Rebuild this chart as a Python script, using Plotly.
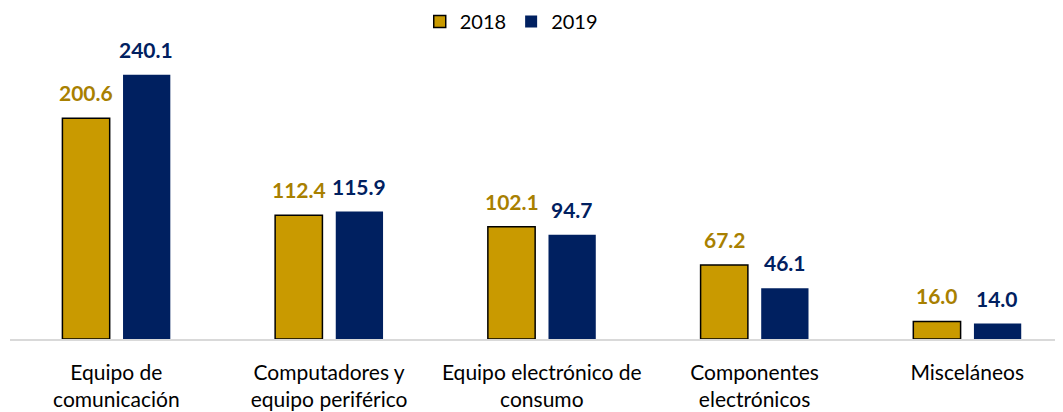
import plotly.graph_objects as go

categories = ["Equipo de<br>comunicación", "Computadores y<br>equipo periférico",
              "Equipo electrónico de<br>consumo", "Componentes<br>electrónicos", "Misceláneos"]
values_2018 = [200.6, 112.4, 102.1, 67.2, 16.0]
values_2019 = [240.1, 115.9, 94.7, 46.1, 14.0]

FONT = "Lato, 'Open Sans', sans-serif"
GOLD = "#C99A00"
GOLD_TXT = "#A88000"
NAVY = "#002060"

fig = go.Figure()
fig.add_trace(go.Bar(
    name="2018", x=categories, y=values_2018,
    marker=dict(color=GOLD, line=dict(color="#000000", width=1.5)),
))
fig.add_trace(go.Bar(
    name="2019", x=categories, y=values_2019,
    marker=dict(color=NAVY, line=dict(width=0)),
))

for vals, col, shift in [(values_2018, GOLD_TXT, -30), (values_2019, NAVY, 30)]:
    for c, v in zip(categories, vals):
        fig.add_annotation(x=c, y=v, text=f"<b>{v:.1f}</b>", showarrow=False,
                           xanchor="center", yanchor="bottom", xshift=shift, yshift=11,
                           font=dict(color=col, size=21, family=FONT))

# page has an 8px body margin, so the figure is sized to fit the 1063x412 window
fig.update_layout(
    width=1055, height=404,
    margin=dict(l=2, r=0, t=32, b=73, autoexpand=False),
    barmode="group", bargap=0.43, bargroupgap=0.22,
    plot_bgcolor="white", paper_bgcolor="white",
    font=dict(family=FONT, size=21, color="#000000"),
    showlegend=True,
    legend=dict(orientation="h", x=0.476, xanchor="center", y=1.062, yanchor="middle",
                yref="paper", font=dict(size=20), traceorder="normal"),
)
fig.update_xaxes(range=[-0.5, 4.45], showline=True, linecolor="#D9D9D9", linewidth=1.5,
                 ticks="", automargin=False, ticklabelstandoff=14,
                 tickfont=dict(size=21, color="#000000"))
fig.update_yaxes(range=[0, 271.8], visible=False, showgrid=False, zeroline=False, automargin=False)

fig.write_html("out.html")
